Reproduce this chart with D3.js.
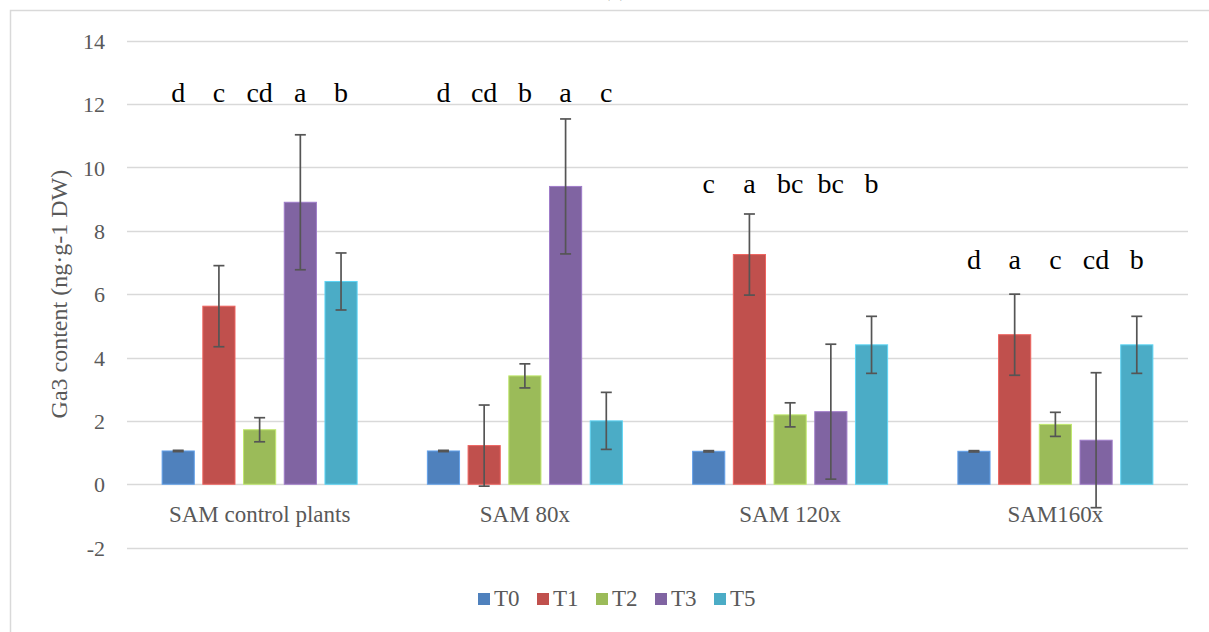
<!DOCTYPE html>
<html>
<head>
<meta charset="utf-8">
<script src="https://cdn.jsdelivr.net/npm/d3@7"></script>
<style>
  html, body { margin: 0; padding: 0; background: #fff; }
  svg { display: block; }
  svg text { font-family: "Liberation Serif", "Times New Roman", Times, "DejaVu Serif", serif !important; }
</style>
</head>
<body>
<svg id="chart" width="1209" height="632"></svg>
<script>
// ---- data ----
const title = "(a)";
const categories = ["SAM control plants", "SAM 80x", "SAM 120x", "SAM160x"];
const seriesNames = ["T0", "T1", "T2", "T3", "T5"];
const seriesColors = ["#4F81BD", "#C0504D", "#9BBB59", "#8064A2", "#4BACC6"];
// values[series][category]
const T0 = [1.05, 1.05, 1.04, 1.04];
const T1 = [5.62, 1.22, 7.25, 4.72];
const T2 = [1.72, 3.42, 2.19, 1.89];
const T3 = [8.90, 9.40, 2.29, 1.39];
const T5 = [6.40, 2.00, 4.40, 4.40];
const errors = [0.02, 1.28, 0.38, 2.13, 0.90]; // per series
const letterT0 = ["d", "d", "c", "d"];
const letterT1 = ["c", "cd", "a", "a"];
const letterT2 = ["cd", "b", "bc", "c"];
const letterT3 = ["a", "a", "bc", "cd"];
const letterT5 = ["b", "c", "b", "b"];
const letterLevels = [12.05, 12.05, 9.2, 6.8];
const yTicks = [-2, 0, 2, 4, 6, 8, 10, 12, 14];
const yTitle = "Ga3 content (ng\u00B7g-1 DW)";

const values = [T0, T1, T2, T3, T5];
const letters = [letterT0, letterT1, letterT2, letterT3, letterT5];

// ---- layout ----
const FONT = "'Liberation Serif', 'Times New Roman', Times, 'DejaVu Serif', serif";
const svg = d3.select("#chart").attr("font-family", FONT);
const W = 1209, H = 632;
const plot = { left: 127, right: 1188, top: 40.7, bottom: 547.6 };

// chart border
svg.append("rect")
  .attr("x", 10.5).attr("y", 10.5)
  .attr("width", W + 20).attr("height", H + 20)
  .attr("fill", "#fff").attr("stroke", "#d9d9d9").attr("stroke-width", 1.5);

// title (cut off at top, as in the reference)
svg.append("text")
  .attr("x", 615).attr("y", -4)
  .attr("text-anchor", "middle")
  .attr("font-size", 22).attr("fill", "#000")
  .text(title);

const y = d3.scaleLinear().domain([-2, 14]).range([plot.bottom, plot.top]);
const x0 = d3.scaleBand().domain(categories).range([plot.left, plot.right]).paddingInner(0).paddingOuter(0);
const groupWidth = 195; // span of 5 bars in a group
const x1 = d3.scaleBand().domain(seriesNames)
  .range([0, groupWidth]).paddingInner(0.21).paddingOuter(0);

// gridlines
const grid = svg.append("g");
grid.selectAll("line").data(yTicks).join("line")
  .attr("x1", plot.left).attr("x2", plot.right)
  .attr("y1", d => Math.round(y(d)) + 0.5).attr("y2", d => Math.round(y(d)) + 0.5)
  .attr("stroke", "#d9d9d9").attr("stroke-width", 1.3);

// y axis labels via d3 axis
const yAxis = d3.axisLeft(y).tickValues(yTicks).tickSize(0).tickPadding(0)
  .tickFormat(d => String(d));
const yg = svg.append("g").attr("transform", `translate(105,0)`).call(yAxis);
yg.attr("font-family", FONT);
yg.select(".domain").remove();
yg.selectAll("text")
  .attr("font-size", 22).attr("fill", "#595959").attr("dy", "0.35em");

// y title
svg.append("text")
  .attr("transform", `translate(67, ${(plot.top + plot.bottom) / 2}) rotate(-90)`)
  .attr("text-anchor", "middle")
  .attr("font-size", 24).attr("fill", "#595959")
  .text(yTitle);

// bars
const groups = svg.append("g").selectAll("g").data(categories).join("g")
  .attr("transform", c => `translate(${x0(c) + (x0.bandwidth() - groupWidth) / 2},0)`);

groups.each(function (c, ci) {
  const g = d3.select(this);
  seriesNames.forEach((s, si) => {
    const v = values[si][ci];
    const bx = x1(s);
    const bw = x1.bandwidth();
    const col = seriesColors[si];
    g.append("rect")
      .attr("x", bx).attr("width", bw)
      .attr("y", y(Math.max(0, v))).attr("height", Math.abs(y(v) - y(0)))
      .attr("fill", col)
      .attr("stroke", d3.color(col).brighter(0.6)).attr("stroke-width", 1);
    // error bar
    const e = errors[si];
    const cx = bx + bw / 2;
    const eb = g.append("g").attr("stroke", "#555555").attr("stroke-width", 1.7);
    eb.append("line").attr("x1", cx).attr("x2", cx).attr("y1", y(v + e)).attr("y2", y(v - e));
    eb.append("line").attr("x1", cx - 5.5).attr("x2", cx + 5.5).attr("y1", y(v + e)).attr("y2", y(v + e));
    eb.append("line").attr("x1", cx - 5.5).attr("x2", cx + 5.5).attr("y1", y(v - e)).attr("y2", y(v - e));
    // significance letter
    g.append("text")
      .attr("x", cx).attr("y", y(letterLevels[ci]))
      .attr("text-anchor", "middle")
      .attr("font-size", 28).attr("fill", "#000")
      .text(letters[si][ci]);
  });
});

// category labels
svg.append("g").selectAll("text").data(categories).join("text")
  .attr("x", c => x0(c) + x0.bandwidth() / 2)
  .attr("y", 522)
  .attr("text-anchor", "middle")
  .attr("font-size", 23).attr("fill", "#595959")
  .text(c => c);

// legend
const legend = svg.append("g").attr("transform", "translate(478,593)");
const item = legend.selectAll("g").data(seriesNames).join("g")
  .attr("transform", (d, i) => `translate(${i * 59},0)`);
item.append("rect").attr("width", 12).attr("height", 12)
  .attr("fill", (d, i) => seriesColors[i]);
item.append("text").attr("x", 16).attr("y", 13)
  .attr("font-size", 23).attr("fill", "#595959")
  .text(d => d);
</script>
</body>
</html>
